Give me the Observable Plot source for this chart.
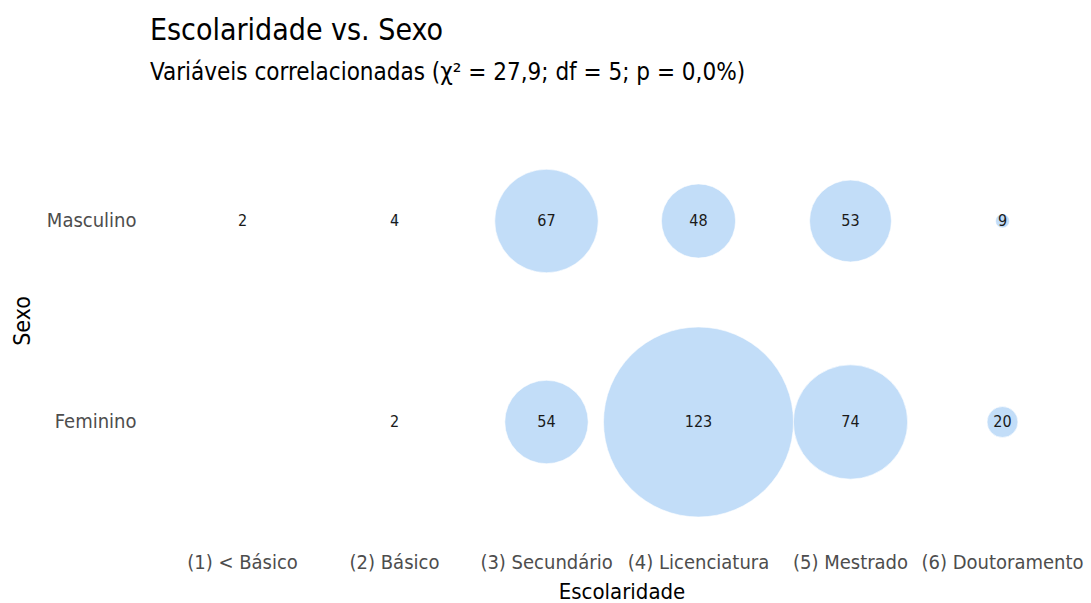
<!DOCTYPE html>
<html>
<head>
<meta charset="utf-8">
<script src="https://cdn.jsdelivr.net/npm/d3@7"></script>
<script src="https://cdn.jsdelivr.net/npm/@observablehq/plot@0.6"></script>
<style>
  body { margin: 0; background: #fff; font-family: "DejaVu Sans Condensed", "Roboto", sans-serif; }
  #wrap { width: 1091px; }
  #title { position: absolute; left: 150px; top: 12px; font-size: 30px; color: #000; white-space: nowrap; }
  #subtitle { position: absolute; left: 150px; top: 58px; font-size: 24px; color: #000; white-space: nowrap; }
  #chart { position: absolute; left: 0; top: 100px; }
</style>
</head>
<body>
<div id="wrap">
  <div id="title">Escolaridade vs. Sexo</div>
  <div id="subtitle">Variáveis correlacionadas (χ² = 27,9; df = 5; p = 0,0%)</div>
  <div id="chart"></div>
</div>
<script>
const escolaridade = ["(1) < Básico", "(2) Básico", "(3) Secundário", "(4) Licenciatura", "(5) Mestrado", "(6) Doutoramento"];
const sexo = ["Masculino", "Feminino"];
const masculino = [2, 4, 67, 48, 53, 9];
const feminino = [null, 2, 54, 123, 74, 20];

const rows = [];
escolaridade.forEach((e, i) => {
  if (masculino[i] != null) rows.push({escolaridade: e, sexo: "Masculino", n: masculino[i]});
  if (feminino[i] != null) rows.push({escolaridade: e, sexo: "Feminino", n: feminino[i]});
});

const font = '"DejaVu Sans Condensed", "Roboto", sans-serif';

const chart = Plot.plot({
  width: 1091,
  height: 503,
  marginLeft: 163,
  marginRight: 11,
  marginTop: 19.5,
  marginBottom: 81.5,
  style: {fontFamily: font, background: "#fff", overflow: "visible"},
  x: {type: "band", domain: escolaridade, padding: 0},
  y: {type: "band", domain: sexo, padding: 0},
  r: {type: "linear", domain: [0, 123], range: [0, 95]},
  marks: [
    Plot.dot(rows, {x: "escolaridade", y: "sexo", r: "n", fill: "#c2ddf8", stroke: "#ffffff", strokeWidth: 0.6}),
    Plot.text(rows, {x: "escolaridade", y: "sexo", text: d => String(d.n), fontSize: 16, fill: "#1a1a1a"}),
    Plot.axisX({tickSize: 0, tickPadding: 33, label: null, fontSize: 20, color: "#4d4d4d"}),
    Plot.axisY({tickSize: 0, tickPadding: 27, label: null, fontSize: 20, color: "#4d4d4d"}),
    Plot.text(["Escolaridade"], {frameAnchor: "bottom", lineAnchor: "middle", dy: 69.5, fontSize: 22, fill: "#000"}),
    Plot.text(["Sexo"], {frameAnchor: "left", textAnchor: "middle", dx: -141, rotate: -90, fontSize: 23, fill: "#000"})
  ]
});
document.getElementById("chart").appendChild(chart);
</script>
</body>
</html>
